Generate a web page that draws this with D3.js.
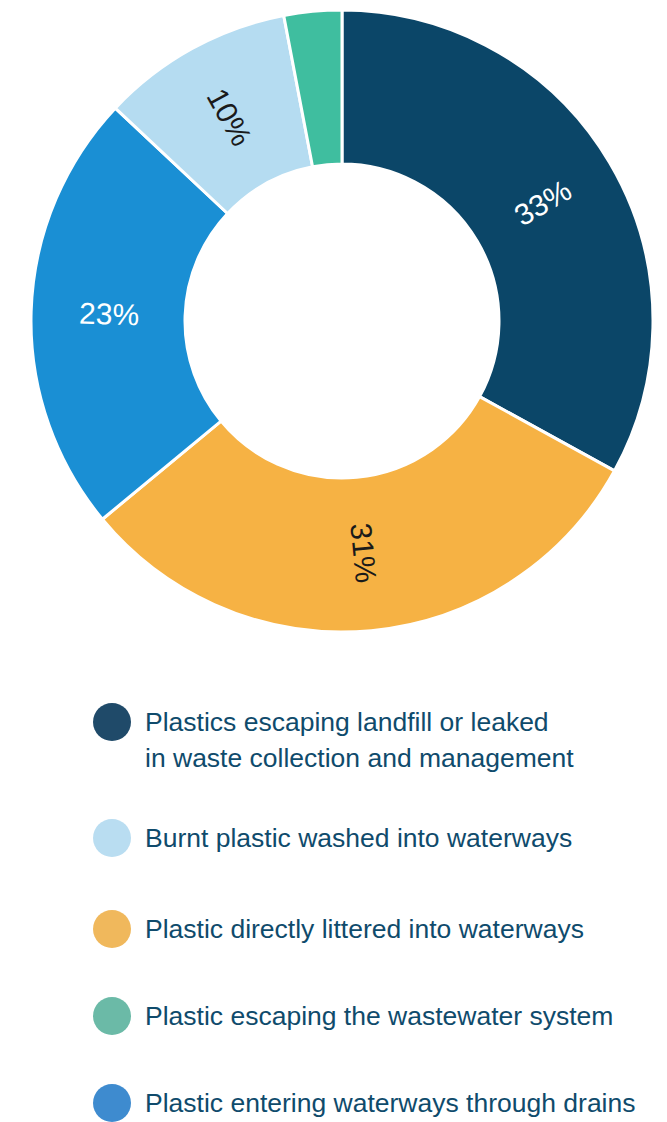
<!DOCTYPE html>
<html>
<head>
<meta charset="utf-8">
<script src="https://cdn.jsdelivr.net/npm/d3@7"></script>
<style>
  body { margin: 0; background: #fff; }
  svg { display: block; }
</style>
</head>
<body>
<svg width="667" height="1122"></svg>
<script>
// slice data, clockwise from 12 o'clock
const categories = [
  "Plastics escaping landfill or leaked in waste collection and management",
  "Plastic directly littered into waterways",
  "Plastic entering waterways through drains",
  "Burnt plastic washed into waterways",
  "Plastic escaping the wastewater system"
];
const shares = [33, 31, 23, 10, 3];
const sliceLabels = ["33%", "31%", "23%", "10%", ""];

// legend order and wrapped lines
const legendOrder = [0, 3, 1, 4, 2];
const legendLines = [
  ["Plastics escaping landfill or leaked", "in waste collection and management"],
  ["Burnt plastic washed into waterways"],
  ["Plastic directly littered into waterways"],
  ["Plastic escaping the wastewater system"],
  ["Plastic entering waterways through drains"]
];

const sliceColors = ["#0b4668", "#f6b244", "#1a8fd4", "#b5dcf1", "#3fbe9f"];
const dotColors = ["#1f4a69", "#f0b85c", "#3e8bcf", "#b9ddf1", "#6bbaa7"];
const labelColors = ["#fff", "#1a1a1a", "#fff", "#1a1a1a", "#fff"];

const cx = 342, cy = 321;
const outerR = 311, innerR = 157, labelR = 233;

const svg = d3.select("svg");

const data = shares.map((v, i) => ({ i: i, value: v, label: sliceLabels[i] }));

const pie = d3.pie()
  .sort(null)
  .value(d => d.value);

const arc = d3.arc()
  .innerRadius(innerR)
  .outerRadius(outerR);

const g = svg.append("g")
  .attr("transform", `translate(${cx}, ${cy})`);

const arcs = pie(data);

g.selectAll("path")
  .data(arcs)
  .enter().append("path")
  .attr("d", arc)
  .attr("fill", d => sliceColors[d.data.i])
  .attr("stroke", "#fff")
  .attr("stroke-width", 3)
  .attr("stroke-linejoin", "round");

// labels rotated along the ring
g.selectAll("text.lbl")
  .data(arcs.filter(d => d.data.label !== ""))
  .enter().append("text")
  .attr("class", "lbl")
  .attr("transform", d => {
    const mid = (d.startAngle + d.endAngle) / 2;
    const x = labelR * Math.sin(mid);
    const y = -labelR * Math.cos(mid);
    let rot = mid * 180 / Math.PI - 90;
    if (rot > 90) rot -= 180;
    return `translate(${x}, ${y}) rotate(${rot})`;
  })
  .attr("text-anchor", "middle")
  .attr("dy", "0.36em")
  .attr("font-family", "Liberation Sans, Arial, sans-serif")
  .attr("font-size", "30px")
  .attr("fill", d => labelColors[d.data.i])
  .text(d => d.data.label);

// legend
const rowY = [722, 838, 929, 1016, 1103];
const legend = svg.append("g");

legendOrder.forEach((idx, k) => {
  const row = legend.append("g")
    .attr("transform", `translate(0, ${rowY[k]})`);
  row.append("circle")
    .attr("cx", 112)
    .attr("cy", 0)
    .attr("r", 19)
    .attr("fill", dotColors[idx]);
  const t = row.append("text")
    .attr("x", 145)
    .attr("y", 9)
    .attr("font-family", "Liberation Sans, Arial, sans-serif")
    .attr("font-size", "26.5px")
    .attr("fill", "#0f4b6c");
  legendLines[k].forEach((line, j) => {
    t.append("tspan")
      .attr("x", 145)
      .attr("dy", j === 0 ? 0 : 36)
      .text(line);
  });
});
</script>
</body>
</html>
